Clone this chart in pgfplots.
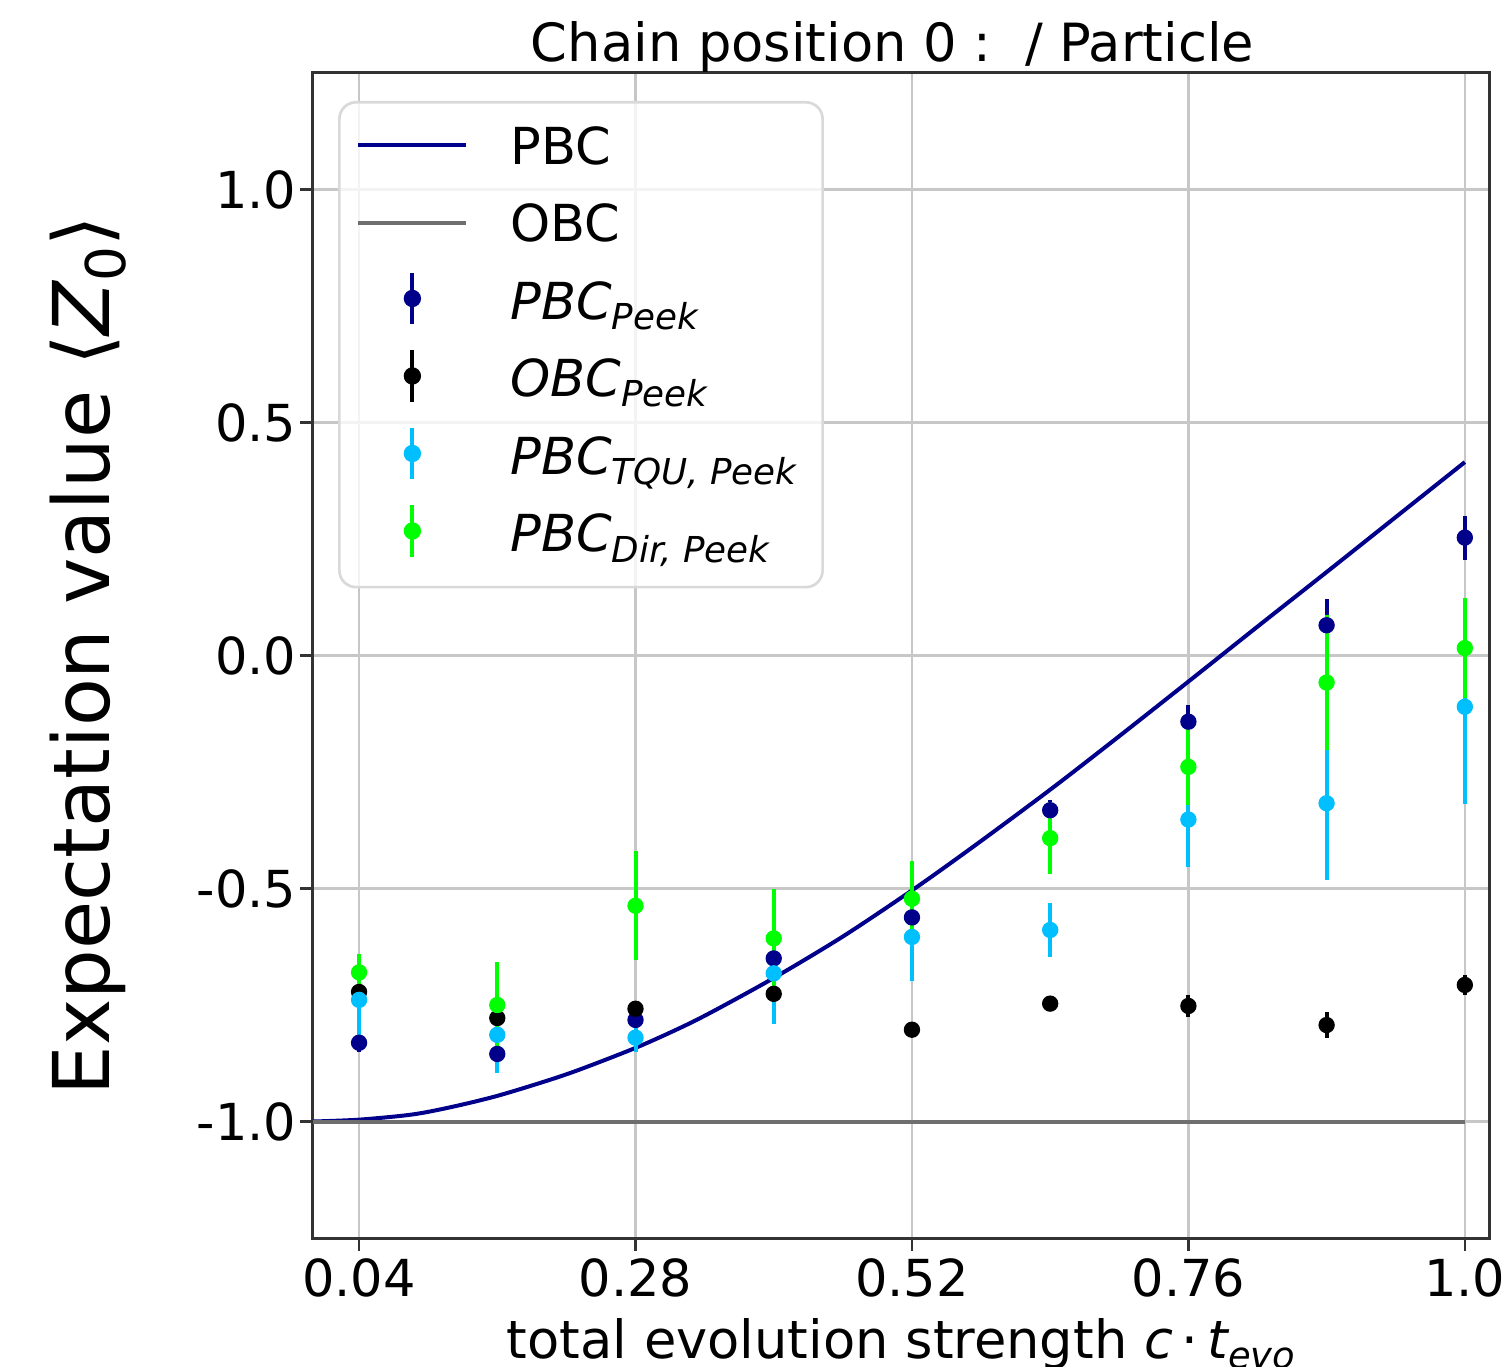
\documentclass[border=0pt]{standalone}
\usepackage{fontspec}
\setmainfont{DejaVu Sans}
\usepackage{graphicx}
\usepackage{pgfplots}
\pgfplotsset{compat=1.18}
\definecolor{pbcnavy}{RGB}{0,0,139}
\definecolor{obcgray}{RGB}{110,110,110}
\definecolor{tqucyan}{RGB}{0,191,255}
\definecolor{dirlime}{RGB}{0,255,0}
\newcommand\sub[1]{\raisebox{-0.2em}{\scalebox{0.7}{#1}}}
\newcommand\fs{\fontsize{15.3}{18}\selectfont}
\pgfplotsset{
  errimg/.style={legend image code/.code={
    \draw[#1, line width=1.2pt, opacity=1, overlay] (16.2pt,-5.5pt) -- (16.2pt,10pt);
    \fill[#1, opacity=1, overlay] (16.2pt,2.25pt) circle (2.2pt);}},
  every axis title/.style={at={(axis description cs:0.5,1)}, anchor=base, xshift=-2.55pt, yshift=3.45pt, font=\fontsize{15.8}{18}\selectfont},
}
\begin{document}
\begin{tikzpicture}
\begin{axis}[
  name=ax,
  scale only axis,
  width=352.8pt, height=349.5pt,
  xmin=0, xmax=1.021, ymin=-1.25, ymax=1.25,
  xtick={0.04,0.28,0.52,0.76,1.0},
  xticklabels={0.04,0.28,0.52,0.76,1.0},
  ytick={-1,-0.5,0,0.5,1},
  yticklabels={-1.0,-0.5,0.0,0.5,1.0},
  tick align=outside,
  tick pos=left,
  major tick length=3.9pt,
  tick style={black!80, line width=0.8pt},
  axis line style={black!80, line width=0.9pt},
  grid=major,
  major grid style={black!22, line width=0.8pt},
  ticklabel style={font=\fs},
  yticklabel style={inner xsep=0.9pt},
  xticklabel style={inner ysep=2.1pt},
  title={Chain position 0 :\ \ / Particle},
  xlabel={total evolution strength {\itshape c}\,·\,{\itshape t}\sub{\itshape evo}},
  xlabel style={font=\fontsize{15.8}{18}\selectfont, at={(axis description cs:0.5,0)}, anchor=base, yshift=-36pt},
  ylabel={Expectation value ⟨{\itshape Z}\sub{0}⟩},
  ylabel style={font=\fontsize{23.5}{28}\selectfont, at={(axis description cs:0,0.5)}, anchor=base, yshift=60.9pt},
  legend style={at={(axis description cs:0.0213,0.976)}, anchor=north west,
    draw=black!15, line width=0.8pt, fill=white, fill opacity=0.8, text opacity=1, draw opacity=1,
    rounded corners=5pt, inner xsep=5.1pt, inner ysep=6.6pt, row sep=7.25pt, column sep=12.6pt,
    font=\fs, nodes={inner sep=0pt, text height=12pt, text depth=4pt, anchor=west}},
  legend cell align=left,
]
\addplot[pbcnavy, line width=1.2pt, smooth,
  legend image code/.code={\draw[pbcnavy, line width=1.2pt, opacity=1] (0pt,1.7pt) -- (32.4pt,1.7pt);}]
coordinates {
(0.00,-1.000) (0.04,-0.996) (0.086,-0.985) (0.12,-0.969) (0.1585,-0.946)
(0.20,-0.915) (0.231,-0.889) (0.28,-0.842) (0.318,-0.800) (0.347,-0.764)
(0.40,-0.692) (0.46,-0.603) (0.52,-0.504) (0.565,-0.425) (0.608,-0.347)
(0.649,-0.271) (0.70,-0.173) (0.761,-0.054) (0.82,0.062) (0.881,0.181)
(0.94,0.297) (1.00,0.415)
};
\addlegendentry{PBC}
\addplot[obcgray, line width=1.2pt,
  legend image code/.code={\draw[obcgray, line width=1.2pt, opacity=1] (0pt,1.7pt) -- (32.4pt,1.7pt);}]
coordinates {(0.00,-1.0) (1.00,-1.0)};
\addlegendentry{OBC}
\addplot[only marks, mark=*, mark size=2.25pt, color=pbcnavy, mark options={draw=none, fill=pbcnavy},
  errimg=pbcnavy,
  error bars/.cd, y dir=both, y explicit, error mark=none,
  error bar style={line width=1.2pt, pbcnavy}]
coordinates {
(0.04,-0.831) +- (0,0.020)
(0.16,-0.855) +- (0,0.020)
(0.28,-0.782) +- (0,0.020)
(0.40,-0.650) +- (0,0.020)
(0.52,-0.562) +- (0,0.022)
(0.64,-0.332) +- (0,0.022)
(0.76,-0.142) +- (0,0.036)
(0.88,0.065) +- (0,0.057)
(1.00,0.253) +- (0,0.047)
};
\addlegendentry{\itshape PBC\sub{Peek}}
\addplot[only marks, mark=*, mark size=2.25pt, color=black, mark options={draw=none, fill=black},
  errimg=black,
  error bars/.cd, y dir=both, y explicit, error mark=none,
  error bar style={line width=1.2pt, black}]
coordinates {
(0.04,-0.722) +- (0,0.015)
(0.16,-0.778) +- (0,0.015)
(0.28,-0.758) +- (0,0.015)
(0.40,-0.726) +- (0,0.015)
(0.52,-0.803) +- (0,0.015)
(0.64,-0.747) +- (0,0.015)
(0.76,-0.752) +- (0,0.024)
(0.88,-0.793) +- (0,0.027)
(1.00,-0.707) +- (0,0.021)
};
\addlegendentry{\itshape OBC\sub{Peek}}
\addplot[only marks, mark=*, mark size=2.25pt, color=tqucyan, mark options={draw=none, fill=tqucyan},
  errimg=tqucyan,
  error bars/.cd, y dir=both, y explicit, error mark=none,
  error bar style={line width=1.2pt, tqucyan}]
coordinates {
(0.04,-0.739) +- (0,0.085)
(0.16,-0.814) +- (0,0.082)
(0.28,-0.820) +- (0,0.030)
(0.40,-0.682) +- (0,0.109)
(0.52,-0.604) +- (0,0.094)
(0.64,-0.589) +- (0,0.057)
(0.76,-0.352) +- (0,0.101)
(0.88,-0.317) +- (0,0.164)
(1.00,-0.110) +- (0,0.208)
};
\addlegendentry{\itshape PBC\sub{TQU, Peek}\kern2.7pt}
\addplot[only marks, mark=*, mark size=2.25pt, color=dirlime, mark options={draw=none, fill=dirlime},
  errimg=dirlime,
  error bars/.cd, y dir=both, y explicit, error mark=none,
  error bar style={line width=1.2pt, dirlime}]
coordinates {
(0.04,-0.680) +- (0,0.040)
(0.16,-0.750) +- (0,0.092)
(0.28,-0.537) +- (0,0.117)
(0.40,-0.607) +- (0,0.106)
(0.52,-0.522) +- (0,0.080)
(0.64,-0.392) +- (0,0.077)
(0.76,-0.239) +- (0,0.082)
(0.88,-0.058) +- (0,0.145)
(1.00,0.016) +- (0,0.107)
};
\addlegendentry{\itshape PBC\sub{Dir, Peek}}
\end{axis}
\pgfresetboundingbox
\path[use as bounding box] ([xshift=-93.9pt,yshift=-38.4pt]ax.south west) rectangle ([xshift=6.9pt,yshift=21.9pt]ax.north east);
\end{tikzpicture}
\end{document}
